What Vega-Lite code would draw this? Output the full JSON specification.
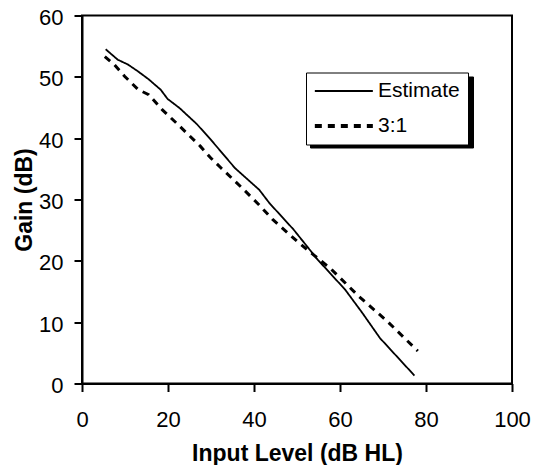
{
  "$schema": "https://vega.github.io/schema/vega-lite/v6.json",
  "width": 430,
  "height": 368,
  "autosize": {"type": "none"},
  "padding": {"left": 82, "top": 15.5, "right": 29, "bottom": 81.5},
  "background": "white",
  "config": {
    "font": "Liberation Sans",
    "view": {"stroke": "black", "strokeWidth": 2},
    "axis": {
      "grid": false,
      "labelFlush": false,
      "labelOverlap": false,
      "domainColor": "black",
      "domainWidth": 2,
      "tickColor": "black",
      "tickWidth": 2,
      "tickSize": 8,
      "labelFont": "Liberation Sans",
      "labelFontSize": 22,
      "labelColor": "black",
      "titleFont": "Liberation Sans",
      "titleFontSize": 23,
      "titleFontWeight": "bold",
      "titleColor": "black"
    },
    "legend": {
      "title": null,
      "orient": "none",
      "direction": "vertical",
      "symbolType": "M-1,0H5",
      "symbolSize": 374,
      "symbolOffset": 0,
      "symbolStrokeColor": "black",
      "symbolStrokeWidth": 2,
      "labelFont": "Liberation Sans",
      "labelFontSize": 21,
      "labelColor": "black",
      "labelOffset": 43,
      "strokeColor": "black",
      "padding": 8,
      "rowPadding": 13
    }
  },
  "data": {
    "values": [
      {"series": "Estimate", "input": 5.5, "gain": 54.5},
      {"series": "Estimate", "input": 8.3, "gain": 52.8},
      {"series": "Estimate", "input": 10.7, "gain": 52.0},
      {"series": "Estimate", "input": 13.0, "gain": 50.9},
      {"series": "Estimate", "input": 15.5, "gain": 49.6},
      {"series": "Estimate", "input": 18.3, "gain": 47.9},
      {"series": "Estimate", "input": 19.9, "gain": 46.4},
      {"series": "Estimate", "input": 22.7, "gain": 44.9},
      {"series": "Estimate", "input": 26.7, "gain": 42.3},
      {"series": "Estimate", "input": 29.9, "gain": 39.8},
      {"series": "Estimate", "input": 35.6, "gain": 35.1},
      {"series": "Estimate", "input": 41.2, "gain": 31.6},
      {"series": "Estimate", "input": 43.6, "gain": 29.4},
      {"series": "Estimate", "input": 49.2, "gain": 25.1},
      {"series": "Estimate", "input": 54.8, "gain": 20.2},
      {"series": "Estimate", "input": 61.2, "gain": 15.3},
      {"series": "Estimate", "input": 65.2, "gain": 11.5},
      {"series": "Estimate", "input": 69.3, "gain": 7.4},
      {"series": "Estimate", "input": 77.3, "gain": 1.3},
      {"series": "3:1", "input": 5.3, "gain": 53.3},
      {"series": "3:1", "input": 7.5, "gain": 52.0},
      {"series": "3:1", "input": 9.9, "gain": 50.1},
      {"series": "3:1", "input": 13.1, "gain": 47.9},
      {"series": "3:1", "input": 15.5, "gain": 47.1},
      {"series": "3:1", "input": 18.7, "gain": 44.6},
      {"series": "3:1", "input": 21.9, "gain": 42.5},
      {"series": "3:1", "input": 24.7, "gain": 40.6},
      {"series": "3:1", "input": 27.5, "gain": 38.7},
      {"series": "3:1", "input": 29.9, "gain": 36.8},
      {"series": "3:1", "input": 32.4, "gain": 35.1},
      {"series": "3:1", "input": 37.2, "gain": 31.9},
      {"series": "3:1", "input": 40.8, "gain": 29.4},
      {"series": "3:1", "input": 44.4, "gain": 26.7},
      {"series": "3:1", "input": 50.0, "gain": 23.2},
      {"series": "3:1", "input": 58.0, "gain": 18.6},
      {"series": "3:1", "input": 64.4, "gain": 14.2},
      {"series": "3:1", "input": 70.9, "gain": 10.2},
      {"series": "3:1", "input": 78.1, "gain": 5.3}
    ]
  },
  "encoding": {
    "x": {
      "field": "input",
      "type": "quantitative",
      "scale": {"domain": [0, 100], "nice": false},
      "axis": {
        "title": "Input Level (dB HL)",
        "values": [0, 20, 40, 60, 80, 100],
        "labelPadding": 18,
        "labelBaseline": "top",
        "titleBaseline": "alphabetic",
        "titleX": 215,
        "titleY": 76.5,
        "titleAnchor": null
      }
    },
    "y": {
      "field": "gain",
      "type": "quantitative",
      "scale": {"domain": [0, 60], "nice": false},
      "axis": {
        "title": "Gain (dB)",
        "values": [0, 10, 20, 30, 40, 50, 60],
        "labelPadding": 11,
        "labelOffset": 2,
        "titleAngle": -90,
        "titleBaseline": "alphabetic",
        "titleAlign": "center",
        "titleX": -51,
        "titleY": 184
      }
    }
  },
  "layer": [
    {
      "mark": {"type": "line", "color": "black", "opacity": 0},
      "encoding": {
        "strokeDash": {
          "field": "series",
          "type": "nominal",
          "scale": {"domain": ["Estimate", "3:1"], "range": [[1, 0], [7, 6]]},
          "legend": {
            "legendX": 228,
            "legendY": 61,
            "fillColor": "black",
            "strokeColor": "black",
            "labelExpr": "''",
            "labelOffset": 125
          }
        }
      }
    },
    {
      "mark": {"type": "line", "color": "black"},
      "encoding": {
        "strokeDash": {
          "field": "series",
          "type": "nominal",
          "scale": {"domain": ["Estimate", "3:1"], "range": [[1, 0], [7, 6]]},
          "legend": {
            "legendX": 224,
            "legendY": 57,
            "fillColor": "white",
            "strokeColor": "black",
            "encode": {
              "symbols": {
                "update": {
                  "strokeWidth": {"signal": "datum.value === '3:1' ? 4 : 2"}
                }
              }
            }
          }
        },
        "strokeWidth": {
          "field": "series",
          "type": "nominal",
          "scale": {"domain": ["Estimate", "3:1"], "range": [1.8, 3]},
          "legend": null
        }
      }
    }
  ],
  "resolve": {
    "scale": {"strokeDash": "independent"},
    "legend": {"strokeDash": "independent"}
  }
}
